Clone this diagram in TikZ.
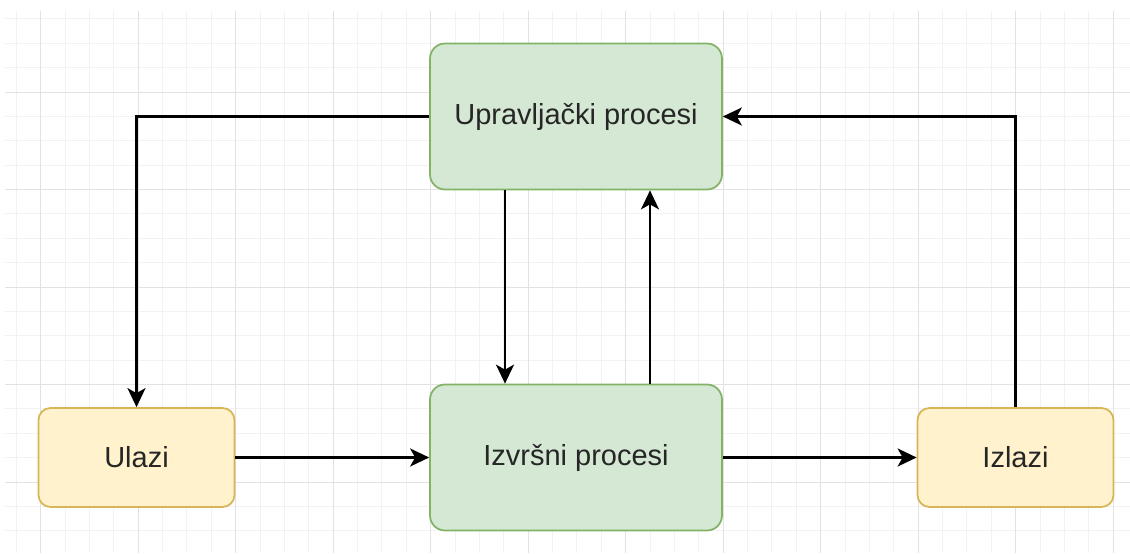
\documentclass[tikz,border=0pt]{standalone}
\usepackage{fontspec}
\setmainfont{Liberation Sans}
\usetikzlibrary{arrows.meta}

\definecolor{greenfill}{HTML}{D5E8D4}
\definecolor{greenline}{HTML}{82B366}
\definecolor{yellowfill}{HTML}{FFF2CC}
\definecolor{yellowline}{HTML}{D6B656}
\definecolor{minorgrid}{HTML}{F2F2F2}
\definecolor{majorgrid}{HTML}{E2E2E2}

\tikzset{
	procbox/.style={draw=greenline, fill=greenfill, line width=1pt, rounded corners=0.3cm, minimum width=5.84cm, minimum height=2.92cm, font=\fontsize{16.5}{20}\selectfont, text=black!85},
	iobox/.style={draw=yellowline, fill=yellowfill, line width=1pt, rounded corners=0.24cm, minimum width=3.92cm, minimum height=1.98cm, font=\fontsize{16.5}{20}\selectfont, text=black!85},
	flow/.style={line width=1.4pt, -{Stealth[length=0.38cm, width=0.36cm, inset=0.1cm]}}
}

\begin{document}
\begin{tikzpicture}[x=0.02cm, y=-0.02cm]
			\useasboundingbox (0,0) rectangle (1130,554);
			\fill[white] (0,0) rectangle (1130,554);
			
			% grid
			\foreach \x in {0,...,45}{
				\draw[minorgrid, line width=0.5pt] (16.3+24.375*\x,11) -- (16.3+24.375*\x,553);
			}
			\foreach \y in {0,...,21}{
				\draw[minorgrid, line width=0.5pt] (5,18.9+24.375*\y) -- (1130,18.9+24.375*\y);
			}
			\foreach \x in {0,...,11}{
				\draw[majorgrid, line width=0.5pt] (40.7+97.5*\x,11) -- (40.7+97.5*\x,553);
			}
			\foreach \y in {0,...,4}{
				\draw[majorgrid, line width=0.5pt] (5,92+97.5*\y) -- (1130,92+97.5*\y);
			}
			
			\node[procbox] (ctrl) at (576,116.5) {Upravljački procesi};
			\node[procbox] (exec) at (576,457.5) {Izvršni procesi};
			\node[iobox] (inputs) at (136.5,457.5) {Ulazi};
			\node[iobox] (outputs) at (1015.5,457.5) {Izlazi};
			
			\draw[flow] (ctrl.west) -| (inputs.north);
			\draw[flow] ([xshift=-1.42cm]ctrl.south) -- ([xshift=-1.42cm]exec.north);
			\draw[flow] ([xshift=1.48cm]exec.north) -- ([xshift=1.48cm]ctrl.south);
			\draw[flow] (inputs.east) -- (exec.west);
			\draw[flow] (exec.east) -- (outputs.west);
			\draw[flow] (outputs.north) |- (ctrl.east);
		\end{tikzpicture}
\end{document}
